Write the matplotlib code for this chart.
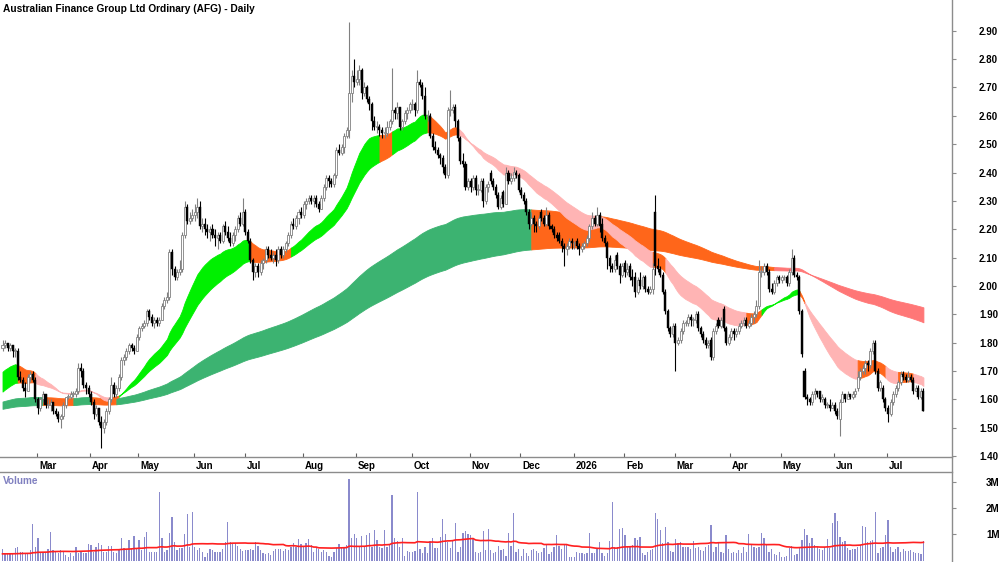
"""AFG daily candles with trend ribbons and a volume panel."""

import numpy as np
import pandas as pd
import matplotlib

matplotlib.use("Agg")
import matplotlib.pyplot as plt
from matplotlib.collections import LineCollection
from matplotlib.lines import Line2D

plt.rcParams["font.family"] = ["Liberation Sans", "DejaVu Sans"]

TITLE = "Australian Finance Group Ltd Ordinary (AFG) - Daily"

# daily prices in cents, one trading day per value (mid Feb 2025 .. Jul 2026)
opens_c = """
178 179 180 178 179 177 177 168 167 164 163 168 169 167 160 157 160 162 158 158
159 156 155 153 154 158 161 161 162 162 163 171 170 165 164 162 159 155 157 152
150 152 156 160 165 162 164 168 174 175 177 179 178 177 182 185 186 187 191 189
187 188 187 188 193 195 196 212 206 203 205 206 218 228 223 224 225 226 228 221
222 220 219 220 218 217 218 216 221 219 217 215 218 220 224 222 226 219 216 209
205 207 205 208 209 213 211 210 211 209 213 211 213 215 218 222 221 224 226 225
229 230 231 230 231 229 227 231 235 238 237 236 239 248 247 249 253 255 268 274
272 273 276 268 270 266 264 258 256 256 255 254 254 256 258 262 261 263 256 258
261 262 264 264 262 272 271 267 260 260 253 249 248 246 245 242 239 262 262 263
258 252 244 243 235 237 235 238 234 234 237 230 235 240 237 235 232 228 233 229
240 237 238 240 239 234 232 230 226 222 224 222 221 226 224 222 225 221 220 218
218 216 214 213 214 216 215 216 214 213 214 215 217 221 224 222 225 222 217 215
210 207 206 211 207 204 208 205 207 203 203 198 202 200 203 199 198 199 226 207
206 204 198 191 185 183 186 180 181 184 187 187 189 188 188 190 185 183 181 179
181 175 184 188 186 192 185 180 182 184 183 184 186 187 188 186 187 189 190 193
205 205 207 205 199 198 201 203 202 203 203 201 205 210 204 203 191 170 161 160
159 162 163 163 160 160 158 158 157 158 156 153 159 162 160 162 161 162 164 168
170 171 173 172 177 180 170 164 164 160 157 155 159 162 164 166 169 168 167 168
167 163 164 161 163
"""
highs_c = """
181 181 180 180 179 178 178 170 168 166 169 170 170 168 161 161 163 162 160 160
159 157 156 155 159 161 162 163 163 164 173 173 171 166 165 163 160 158 157 154
153 157 161 168 166 165 169 175 176 178 180 180 179 183 186 187 188 192 192 190
189 189 189 194 196 198 213 213 207 206 209 219 230 229 226 227 229 231 230 224
224 222 221 222 220 219 219 222 223 221 219 219 221 225 226 231 227 220 217 210
208 208 209 210 214 214 213 212 213 214 214 214 216 219 223 224 225 227 228 230
231 232 232 232 232 230 232 236 239 239 238 240 249 250 250 254 256 293 276 280
276 278 277 272 271 267 265 260 258 257 256 256 258 259 277 263 265 263 259 262
263 265 266 265 276 273 272 270 262 261 254 251 249 247 246 243 263 269 264 264
259 253 247 244 238 238 239 239 236 238 238 236 237 241 238 236 233 232 234 242
241 240 242 241 240 235 233 231 227 226 225 223 225 227 225 228 226 222 221 219
219 217 215 215 217 217 216 217 215 215 216 218 222 226 225 228 226 224 218 216
211 208 211 212 208 208 209 208 208 206 205 203 205 204 204 200 200 208 232 210
207 205 199 192 186 187 187 182 185 188 188 190 190 189 191 191 186 184 182 181
182 185 187 189 189 193 186 183 185 185 185 187 188 189 189 188 190 191 195 209
207 208 208 206 201 202 204 204 204 204 204 206 213 211 205 204 192 171 162 161
163 164 163 163 162 161 159 160 159 159 157 160 163 162 163 162 163 164 170 171
172 174 174 178 181 181 171 167 165 161 158 160 163 165 167 170 170 169 170 169
168 165 165 164 164
"""
lows_c = """
177 178 177 177 175 175 167 166 163 161 163 166 166 159 155 156 159 157 157 156
155 154 152 150 153 157 160 160 161 161 162 168 164 162 161 158 153 154 151 143
148 151 155 159 161 161 163 167 172 174 176 177 176 177 181 184 185 186 188 186
185 186 186 188 192 194 195 204 202 202 204 205 217 222 222 223 223 224 220 219
218 217 216 217 214 213 215 215 218 216 214 214 216 219 221 221 218 215 208 202
203 203 204 206 208 210 209 208 207 208 210 210 212 214 217 220 220 222 224 224
227 229 229 228 228 226 227 230 234 235 235 235 238 246 246 247 252 252 265 270
271 271 266 267 265 262 255 255 254 253 252 252 253 255 257 259 259 255 255 257
259 261 262 260 261 270 266 259 258 252 248 247 245 243 240 238 238 260 261 256
251 243 242 234 234 233 234 232 232 233 228 229 233 236 234 231 227 227 228 229
236 236 237 238 233 231 229 225 220 221 219 219 220 223 221 221 220 219 217 216
215 212 207 211 213 213 213 213 211 212 213 214 216 220 221 221 219 216 214 206
205 205 205 206 201 203 203 204 202 200 196 197 199 199 198 197 197 197 204 205
203 197 190 184 182 182 170 179 180 183 186 186 186 186 187 184 182 180 178 178
174 174 183 185 185 184 179 179 181 181 182 183 185 186 185 185 186 187 189 192
203 204 204 198 197 197 200 201 201 202 200 200 204 203 202 190 175 160 158 158
158 160 161 159 159 157 157 156 157 155 153 147 159 159 160 160 160 161 163 167
169 169 170 171 176 169 163 163 159 156 152 154 158 161 163 165 167 166 166 166
162 163 160 160 156
"""
closes_c = """
179 180 178 179 177 177 168 167 164 163 168 169 167 160 157 160 162 158 158 159
156 155 153 154 158 161 161 162 162 163 171 170 165 164 162 159 155 157 152 150
152 156 160 165 162 164 168 174 175 177 179 178 177 182 185 186 187 191 189 187
188 187 188 193 195 196 212 206 203 205 206 218 228 223 224 225 226 228 221 222
220 219 220 218 217 218 216 221 219 217 215 218 220 224 222 226 219 216 209 205
207 205 208 209 213 211 210 211 209 213 211 213 215 218 222 221 224 226 225 229
230 231 230 231 229 227 231 235 238 237 236 239 248 247 249 253 255 268 274 272
273 276 268 270 266 264 258 256 256 255 254 254 256 258 262 261 263 256 258 261
262 264 264 262 272 271 267 260 260 253 249 248 246 245 242 239 262 262 263 258
252 244 243 235 237 235 238 234 234 237 230 235 236 237 235 232 228 231 229 240
237 238 240 239 234 232 230 226 222 224 222 221 224 224 222 225 221 220 218 217
216 214 213 214 216 215 215 214 213 214 215 217 221 224 222 225 221 217 215 210
207 206 209 207 204 207 205 206 203 202 198 202 200 203 199 198 199 206 207 206
204 198 191 185 183 186 180 181 184 187 187 189 188 188 190 185 183 181 179 180
175 184 186 186 188 185 180 182 184 183 184 186 187 188 186 187 189 190 193 205
205 207 205 199 198 201 203 202 203 203 201 205 210 204 203 191 176 161 160 159
162 163 162 160 161 158 158 157 158 156 154 159 162 160 162 161 162 163 168 170
171 173 172 177 180 170 164 166 160 157 155 159 162 164 166 169 168 167 168 167
163 164 161 163 156
"""
# volume in millions of shares
volume_m = """
0.43 0.27 0.25 0.30 0.30 0.46 0.50 0.34 0.34 0.27 0.30 0.40 1.38 0.50 0.85 0.34 0.30 0.34 0.43 1.10
0.40 0.34 0.27 0.40 0.38 0.21 0.15 0.27 0.17 0.50 0.30 0.34 0.27 0.30 0.63 0.59 0.34 0.53 0.68 0.59
0.34 0.34 0.55 0.55 0.34 0.27 0.40 0.85 0.46 0.40 0.78 0.46 0.94 0.46 0.78 0.40 0.91 1.10 0.34 0.34
0.34 0.34 2.61 0.85 0.34 0.40 1.04 1.67 0.72 0.40 0.46 0.46 1.01 1.77 0.50 1.84 0.53 0.40 0.46 0.34
0.15 0.27 0.43 0.40 0.34 0.34 0.34 0.45 0.72 1.46 0.72 0.68 0.65 0.55 0.43 0.38 0.40 0.40 0.45 0.40
0.72 0.55 0.40 0.27 0.25 0.30 0.21 0.38 0.43 0.43 0.45 0.38 0.45 0.40 0.50 0.65 0.50 0.81 0.63 0.50
0.65 0.81 0.59 0.34 0.46 0.43 0.34 0.40 0.34 0.17 0.12 0.34 0.46 0.63 0.50 0.50 0.59 3.10 0.85 1.01
0.85 0.53 0.94 0.50 0.97 1.06 0.53 1.16 0.78 0.50 0.46 1.16 0.50 0.59 2.50 0.85 0.76 0.53 0.85 0.17
0.38 0.34 0.34 0.38 2.61 0.44 0.27 0.50 0.30 0.76 0.85 0.46 0.46 0.88 1.57 1.01 0.72 0.46 0.76 1.42
0.34 0.50 1.06 1.14 1.01 0.97 0.85 0.34 0.30 0.34 1.11 0.40 1.21 0.40 0.30 0.34 0.55 0.40 0.43 0.17
1.04 0.55 1.80 0.34 0.43 0.17 0.43 0.27 0.17 0.40 0.43 0.38 0.27 0.34 0.46 0.59 0.25 0.34 0.50 0.96
0.55 0.45 0.63 0.58 0.12 0.12 0.12 0.34 0.30 0.27 0.25 0.27 1.06 0.27 0.27 0.43 0.69 0.27 0.17 0.27
0.74 2.22 0.50 0.53 1.21 1.24 0.97 0.50 0.55 0.59 0.85 0.78 0.91 0.27 0.21 0.34 0.40 0.43 1.80 1.57
1.16 0.68 1.29 0.72 0.38 0.33 0.81 0.68 0.72 0.53 0.50 0.50 0.43 0.76 0.46 0.53 0.40 0.38 0.50 0.59
1.35 0.34 0.50 0.68 0.34 0.30 0.99 0.43 0.27 0.34 0.27 0.40 0.27 0.50 0.34 1.01 0.59 0.50 0.46 0.50
1.06 0.85 0.59 0.34 0.43 0.25 0.21 0.34 0.12 0.12 0.17 0.46 0.55 0.21 0.25 0.50 0.78 1.19 0.97 0.68
0.85 0.59 0.50 0.43 0.40 0.50 0.81 0.46 1.44 1.80 1.52 0.88 0.72 0.76 0.46 0.40 0.43 0.43 0.50 0.59
1.32 1.27 0.72 0.76 0.78 1.85 0.27 0.46 0.50 0.97 1.55 0.50 0.34 0.43 0.50 0.34 0.43 0.38 0.38 0.40
0.34 0.30 0.27 0.25 0.76
"""

month_labels = ["Mar", "Apr", "May", "Jun", "Jul", "Aug", "Sep", "Oct", "Nov",
                "Dec", "2026", "Feb", "Mar", "Apr", "May", "Jun", "Jul"]
month_start = [14, 35, 54, 76, 96, 119, 140, 162, 185, 205, 226, 246, 266,
               288, 308, 329, 350]

# ribbon EMA spans and their starting levels at the left edge of the chart
short_spans = (26, 45)
short_seeds = (1.69, 1.62)
long_spans = (165, 265)
long_seeds = (1.59, 1.565)
vol_ma_len = 50
vol_ma_seed = 0.25

# ribbon colour runs (first bar, last bar + 1, colour key), as drawn
short_runs = [(0, 6, "up"), (6, 13, "mix"), (13, 43, "down"), (43, 46, "mix"),
              (46, 98, "up"), (98, 114, "mix"), (114, 149, "up"), (149, 154, "mix"),
              (154, 168, "up"), (168, 180, "mix"), (180, 257, "down"), (257, 262, "mix"),
              (262, 294, "down"), (294, 300, "mix"), (300, 315, "up"), (315, 317, "mix"),
              (317, 338, "down"), (338, 349, "mix"), (349, 354, "down"),
              (354, 360, "mix"), (360, 365, "down")]
long_runs = [(0, 16, "up"), (16, 28, "mix"), (28, 35, "up"), (35, 45, "mix"),
             (45, 209, "up"), (209, 305, "mix"), (305, 365, "down")]

SHORT_COL = {"up": "#00f000", "mix": "#ff661a", "down": "#ffb4b4"}
LONG_COL = {"up": "#3cb371", "mix": "#ff661a", "down": "#ff7777"}
AXIS_COL = "#8c8c8c"


def cents(s):
    return np.array(s.split(), dtype=float) / 100.0


def ema(values, span, seed):
    a = 2.0 / (span + 1)
    out = np.empty_like(values)
    prev = seed
    for k, v in enumerate(values):
        prev = prev + a * (v - prev)
        out[k] = prev
    return out


opens = cents(opens_c)
highs = cents(highs_c)
lows = cents(lows_c)
closes = cents(closes_c)
volume = np.array(volume_m.split(), dtype=float)
highs = np.maximum(highs, np.maximum(opens, closes))
lows = np.minimum(lows, np.minimum(opens, closes))
idx = np.arange(len(closes))

W, H = 1000, 562
PRICE_BOTTOM = 457
VOL_TOP = 472
RIGHT = 952

fig = plt.figure(figsize=(W / 100, H / 100), dpi=100)
ax = fig.add_axes([0, 1 - PRICE_BOTTOM / H, RIGHT / W, PRICE_BOTTOM / H])
axv = fig.add_axes([0, 0, RIGHT / W, (H - VOL_TOP) / H])

x_lo = -2.5 / 2.53
x_hi = (RIGHT - 2.5) / 2.53


def ribbon(axis, spans, seeds, runs, cols, z):
    e1 = ema(closes, spans[0], seeds[0])
    e2 = ema(closes, spans[1], seeds[1])
    lo = np.minimum(e1, e2)
    hi = np.maximum(e1, e2)
    for start, stop, key in runs:
        sl = slice(start, min(stop + 1, len(closes)))
        axis.fill_between(idx[sl], lo[sl], hi[sl], facecolor=cols[key],
                          edgecolor=cols[key], linewidth=0.6, zorder=z)


ribbon(ax, long_spans, long_seeds, long_runs, LONG_COL, 1)
ribbon(ax, short_spans, short_seeds, short_runs, SHORT_COL, 2)

# candles
up = closes >= opens
wick_cols = np.where(up, "#808080", "#000000")
segs = [[(i, lows[i]), (i, highs[i])] for i in idx]
ax.add_collection(LineCollection(segs, colors=wick_cols, linewidths=0.8, zorder=3))
body_lo = np.minimum(opens, closes)
body_h = np.maximum(np.abs(closes - opens), 0.003)
ax.bar(idx[up], body_h[up], bottom=body_lo[up], width=0.8, facecolor="white",
       edgecolor="#808080", linewidth=0.6, zorder=4)
ax.bar(idx[~up], body_h[~up], bottom=body_lo[~up], width=0.8, facecolor="black",
       edgecolor="black", linewidth=0.3, zorder=4)

ax.set_xlim(x_lo, x_hi)
ax.set_ylim(2.90 - (PRICE_BOTTOM - 30.7) / 283.6, 2.90 + 30.7 / 283.6)
ax.yaxis.tick_right()
ax.set_yticks(np.round(np.arange(1.40, 2.91, 0.10), 2))
ax.set_yticklabels([f"{v:.2f}" for v in np.arange(1.40, 2.91, 0.10)])
ax.tick_params(axis="y", direction="out", length=3, width=0.8, color=AXIS_COL,
               pad=16.5, labelsize=7)
ax.set_xticks([m - 0.3 for m in month_start])
ax.set_xticklabels([])
ax.tick_params(axis="x", direction="in", length=3, width=0.8, color="#606060")
for lab in ax.get_yticklabels():
    lab.set_fontweight("bold")
for s in ax.spines.values():
    s.set_visible(False)

for lab, m in zip(month_labels, month_start):
    ax.annotate(lab, xy=(m - 0.3, 0), xycoords=("data", "axes fraction"),
                xytext=(1.3, -8.3), textcoords="offset points", ha="left",
                va="baseline", fontsize=7, fontweight="bold")

fig.text(3 / W, 1 - 12.5 / H, TITLE, fontsize=7.3, fontweight="bold",
         ha="left", va="baseline")

# volume panel
vol_pad = np.concatenate([np.full(vol_ma_len - 1, vol_ma_seed), volume])
vol_ma = pd.Series(vol_pad).rolling(vol_ma_len).mean().to_numpy()[vol_ma_len - 1:]
axv.bar(idx, volume, width=0.5, color="#8a8acc", linewidth=0, zorder=2)
axv.plot(idx, vol_ma, color="#ff2020", linewidth=1.2, zorder=3)
axv.set_xlim(x_lo, x_hi)
axv.set_ylim(-1.5 / 26.2, (560.5 - VOL_TOP) / 26.2)
axv.yaxis.tick_right()
axv.set_yticks([1, 2, 3])
axv.set_yticklabels(["1M", "2M", "3M"])
axv.tick_params(axis="y", direction="out", length=3, width=0.8, color=AXIS_COL,
                pad=21.5, labelsize=7)
for lab in axv.get_yticklabels():
    lab.set_fontweight("bold")
axv.set_xticks([])
for s in axv.spines.values():
    s.set_visible(False)
axv.text(2.7 / RIGHT, 1 - 12.5 / (H - VOL_TOP), "Volume", transform=axv.transAxes,
         fontsize=7.2, fontweight="bold", color="#8080c0", ha="left", va="baseline")

# frame lines
fig.add_artist(Line2D([RIGHT / W, RIGHT / W], [0, 1], color=AXIS_COL, linewidth=1))
for yy in (PRICE_BOTTOM, VOL_TOP):
    fig.add_artist(Line2D([0, RIGHT / W], [1 - yy / H, 1 - yy / H],
                          color=AXIS_COL, linewidth=1))

fig.savefig("out.png", dpi=100, facecolor="white")
